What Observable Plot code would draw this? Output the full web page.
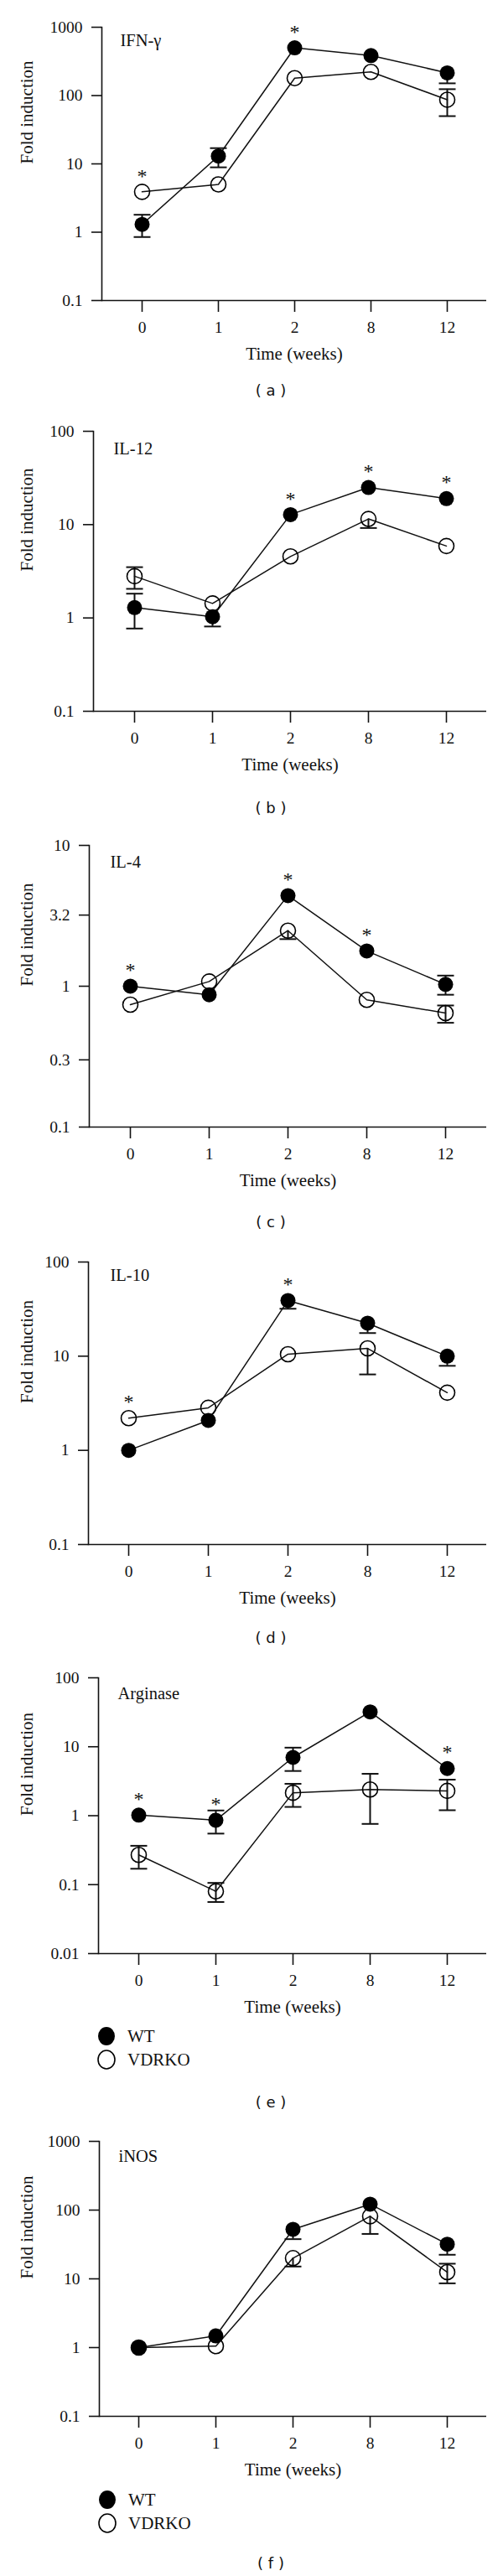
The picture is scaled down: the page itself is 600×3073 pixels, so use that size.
<!DOCTYPE html>
<html><head><meta charset="utf-8">
<script src="https://cdn.jsdelivr.net/npm/d3@7"></script>
<script src="https://cdn.jsdelivr.net/npm/@observablehq/plot@0.6"></script>
<style>
body{margin:0;background:#fff;width:600px;height:3073px;position:relative;overflow:hidden}
.panel{position:absolute;left:0}
.cap{position:absolute;font-family:"DejaVu Sans",sans-serif;font-size:18px;transform:translate(-50%,-50%);white-space:pre;color:#111}
.leg{position:absolute;font-family:"Liberation Serif",serif;font-size:21px;display:flex;align-items:center;color:#111}
.leg svg{margin-right:14px}
</style></head><body>
<script>
const weeks = ["0","1","2","8","12"];
const seriesNames = ["WT","VDRKO"];
const yLabel = "Fold induction";
const xLabel = "Time (weeks)";

// (a) IFN-γ
const ifnWT = [1.3, 13, 500, 385, 215];
const ifnKO = [3.9, 5.0, 180, 222, 87];
const ifnWTLo = [0.85, 8.9, null, null, 151];
const ifnWTHi = [1.8, 17, null, null, null];
const ifnKOLo = [null, null, null, null, 50];
const ifnKOHi = [null, null, null, null, 124];
const ifnStars = ["0","2"];
const ifnTicks = [0.1, 1, 10, 100, 1000];

// (b) IL-12
const il12WT = [1.29, 1.03, 12.8, 25, 19];
const il12KO = [2.8, 1.43, 4.56, 11.5, 5.9];
const il12WTLo = [0.77, 0.81, null, null, null];
const il12WTHi = [1.82, null, null, null, null];
const il12KOLo = [2.05, null, null, 9.2, null];
const il12KOHi = [3.5, null, null, null, null];
const il12Stars = ["2","8","12"];
const il12Ticks = [0.1, 1, 10, 100];

// (c) IL-4
const il4WT = [1.0, 0.87, 4.4, 1.78, 1.03];
const il4KO = [0.74, 1.08, 2.48, 0.80, 0.645];
const il4WTLo = [null, null, null, null, 0.87];
const il4WTHi = [null, null, null, null, 1.19];
const il4KOLo = [null, null, 2.16, null, 0.55];
const il4KOHi = [null, null, null, null, 0.73];
const il4Stars = ["0","2","8"];
const il4Ticks = [0.1, 0.3, 1, 3.2, 10];

// (d) IL-10
const il10WT = [1.0, 2.08, 39, 22.4, 10];
const il10KO = [2.2, 2.83, 10.5, 12.1, 4.1];
const il10WTLo = [null, null, 31.9, 17.6, 7.9];
const il10WTHi = [null, null, null, null, null];
const il10KOLo = [null, null, null, 6.4, null];
const il10KOHi = [null, null, null, null, null];
const il10Stars = ["0","2"];
const il10Ticks = [0.1, 1, 10, 100];

// (e) Arginase
const argWT = [1.02, 0.86, 7.0, 32, 4.83];
const argKO = [0.27, 0.08, 2.15, 2.4, 2.29];
const argWTLo = [null, 0.55, 4.45, null, null];
const argWTHi = [null, 1.19, 9.7, null, null];
const argKOLo = [0.17, 0.056, 1.34, 0.76, 1.2];
const argKOHi = [0.366, 0.106, 2.9, 4.05, 3.33];
const argStars = ["0","1","12"];
const argTicks = [0.01, 0.1, 1, 10, 100];

// (f) iNOS
const inosWT = [1.0, 1.48, 52.5, 122, 31.9];
const inosKO = [1.0, 1.05, 20, 81.4, 12.5];
const inosWTLo = [null, null, 37.8, null, 22.4];
const inosWTHi = [null, null, null, null, null];
const inosKOLo = [null, null, 15.1, 45, 8.6];
const inosKOHi = [null, null, null, null, 16.6];
const inosStars = [];
const inosTicks = [0.1, 1, 10, 100, 1000];

const capSymbol = {draw(ctx, size) { const r = Math.sqrt(size / Math.PI); ctx.moveTo(-r, 0); ctx.lineTo(r, 0); }};

const panels = [
  {gene:"IFN-γ", cap:"( a )", wt:ifnWT, ko:ifnKO, wtLo:ifnWTLo, wtHi:ifnWTHi, koLo:ifnKOLo, koHi:ifnKOHi, stars:ifnStars, ticks:ifnTicks,
   yTop:32, yBot:358, xLeft:121, gdx:22, gdy:15.5, capY:465, legend:null},
  {gene:"IL-12", cap:"( b )", wt:il12WT, ko:il12KO, wtLo:il12WTLo, wtHi:il12WTHi, koLo:il12KOLo, koHi:il12KOHi, stars:il12Stars, ticks:il12Ticks,
   yTop:514, yBot:848, xLeft:111, gdx:24, gdy:21, capY:963, legend:null},
  {gene:"IL-4", cap:"( c )", wt:il4WT, ko:il4KO, wtLo:il4WTLo, wtHi:il4WTHi, koLo:il4KOLo, koHi:il4KOHi, stars:il4Stars, ticks:il4Ticks,
   yTop:1008, yBot:1344, xLeft:106, gdx:25, gdy:20, capY:1457, legend:null},
  {gene:"IL-10", cap:"( d )", wt:il10WT, ko:il10KO, wtLo:il10WTLo, wtHi:il10WTHi, koLo:il10KOLo, koHi:il10KOHi, stars:il10Stars, ticks:il10Ticks,
   yTop:1505, yBot:1842, xLeft:105, gdx:26, gdy:16, capY:1953, legend:null},
  {gene:"Arginase", cap:"( e )", wt:argWT, ko:argKO, wtLo:argWTLo, wtHi:argWTHi, koLo:argKOLo, koHi:argKOHi, stars:argStars, ticks:argTicks,
   yTop:2001, yBot:2330, xLeft:117, gdx:23, gdy:19, capY:2507, legend:{x:116, y:2429}},
  {gene:"iNOS", cap:"( f )", wt:inosWT, ko:inosKO, wtLo:inosWTLo, wtHi:inosWTHi, koLo:inosKOLo, koHi:inosKOHi, stars:inosStars, ticks:inosTicks,
   yTop:2554, yBot:2882, xLeft:118, gdx:23, gdy:17.5, capY:3057, legend:{x:117, y:2982}}
];

const MT = 40, MB = 80;

function makePanel(p) {
  const rows = (vals, lo, hi, group) => weeks.map((w, i) => ({week: w, v: vals[i], lo: lo[i], hi: hi[i], group}));
  const wt = rows(p.wt, p.wtLo, p.wtHi, seriesNames[0]);
  const ko = rows(p.ko, p.koLo, p.koHi, seriesNames[1]);
  const all = wt.concat(ko);
  const errs = all.filter(d => d.lo != null || d.hi != null).map(d => ({week: d.week, y1: d.lo ?? d.v, y2: d.hi ?? d.v}));
  const caps = [];
  all.forEach(d => { if (d.lo != null) caps.push({week: d.week, y: d.lo}); if (d.hi != null) caps.push({week: d.week, y: d.hi}); });
  const stars = p.stars.map(w => { const i = weeks.indexOf(w); return {week: w, y: Math.max(p.wt[i], p.ko[i])}; });
  const domain = [p.ticks[0], p.ticks[p.ticks.length - 1]];
  return Plot.plot({
    width: 600, height: MT + (p.yBot - p.yTop) + MB,
    marginLeft: p.xLeft, marginRight: 20, marginTop: MT, marginBottom: MB,
    style: {fontFamily: "Liberation Serif, serif", background: "transparent", overflow: "visible", color: "#111"},
    x: {type: "point", domain: weeks, padding: 0.5},
    y: {type: "log", domain},
    marks: [
      Plot.frame({anchor: "left", strokeWidth: 1.6}),
      Plot.ruleY([domain[0]], {strokeWidth: 1.6}),
      Plot.axisY({ticks: p.ticks, tickFormat: d => String(d), tickSize: 12, tickPadding: 11, fontSize: 19.5, strokeWidth: 1.6, label: null}),
      Plot.axisX({tickSize: 14, tickPadding: 11, fontSize: 19.5, strokeWidth: 1.6, label: null}),
      Plot.ruleX(errs, {x: "week", y1: "y1", y2: "y2", strokeWidth: 2}),
      Plot.dot(caps, {x: "week", y: "y", symbol: capSymbol, r: 10, stroke: "#111", strokeWidth: 2, fill: "none"}),
      Plot.line(wt, {x: "week", y: "v", strokeWidth: 1.5}),
      Plot.line(ko, {x: "week", y: "v", strokeWidth: 1.5}),
      Plot.dot(wt, {x: "week", y: "v", r: 9, fill: "#000"}),
      Plot.dot(ko, {x: "week", y: "v", r: 9, stroke: "#000", strokeWidth: 1.6, fill: "none"}),
      Plot.text(stars, {x: "week", y: "y", text: () => "*", fontSize: 24, dy: -19}),
      Plot.text([p.gene], {frameAnchor: "top-left", lineAnchor: "middle", textAnchor: "start", dx: p.gdx, dy: p.gdy, fontSize: 20.5}),
      Plot.text([yLabel], {frameAnchor: "left", lineAnchor: "middle", rotate: -90, dx: 32 - p.xLeft, fontSize: 21}),
      Plot.text([xLabel], {frameAnchor: "bottom", lineAnchor: "middle", dy: 64, fontSize: 21})
    ]
  });
}

for (const p of panels) {
  const div = document.createElement("div");
  div.className = "panel";
  div.style.top = (p.yTop - MT) + "px";
  div.appendChild(makePanel(p));
  document.body.appendChild(div);
}
for (const p of panels) {
  const c = document.createElement("div");
  c.className = "cap";
  c.style.left = "323px";
  c.style.top = p.capY + "px";
  c.textContent = p.cap;
  document.body.appendChild(c);
  if (p.legend) {
    seriesNames.forEach((name, i) => {
      const row = document.createElement("div");
      row.className = "leg";
      row.style.left = p.legend.x + "px";
      row.style.top = (p.legend.y + i * 28 - 12) + "px";
      row.style.height = "24px";
      const filled = i === 0;
      row.innerHTML = `<svg width="22" height="24"><ellipse cx="11" cy="12" rx="10" ry="11" fill="${filled ? "#000" : "none"}" stroke="#000" stroke-width="${filled ? 0 : 1.6}"/></svg><span>${name}</span>`;
      document.body.appendChild(row);
    });
  }
}
</script>
</body></html>
